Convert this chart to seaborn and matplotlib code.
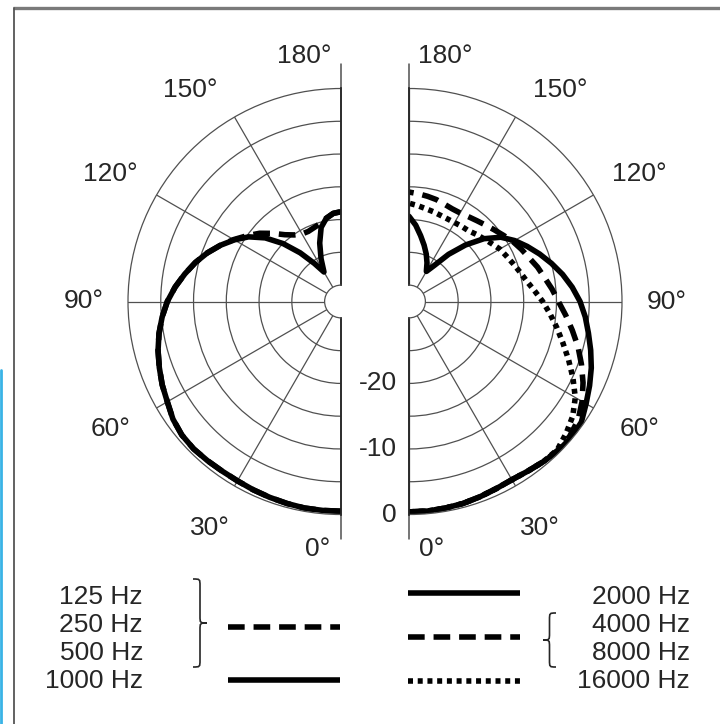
import numpy as np
import pandas as pd
import matplotlib
matplotlib.use("Agg")
import matplotlib.pyplot as plt
import seaborn as sns
from matplotlib.path import Path
from matplotlib.patches import PathPatch

# angles (degrees, 0 = on-axis) and levels in dB
angles = list(range(0, 181, 5))
# left half: 125 / 250 / 500 Hz (dashed) and 1000 Hz (solid)
db_1000 = [-0.5, -0.5, -0.5, -0.6, -0.7, -0.8, -0.9, -0.9, -0.8, -0.7,
           -0.8, -1.2, -1.9, -2.4, -3.0, -3.6, -4.3, -5.1, -6.0, -7.1,
           -8.3, -9.5, -10.8, -12.2, -13.7, -15.3, -17.4, -20.0, -22.8, -25.4,
           -27.3, -25.3, -23.0, -20.8, -19.6, -19.0, -18.8]
db_low = [-0.5, -0.5, -0.5, -0.6, -0.7, -0.8, -0.9, -0.9, -0.8, -0.7,
          -0.8, -1.2, -1.9, -2.4, -3.0, -3.6, -4.3, -5.1, -6.0, -7.1,
          -8.3, -9.5, -10.8, -12.2, -13.6, -15.0, -16.3, -17.8, -19.2, -20.1,
          -20.6, -20.7, -20.5, -20.2, -19.6, -19.0, -18.8]
# right half: 2000 Hz (solid), 4000 / 8000 Hz (dashed), 16000 Hz (dotted)
db_2000 = [-0.4, -0.4, -0.5, -0.6, -0.8, -1.0, -1.1, -0.9, -0.6, -0.3,
           -0.2, -0.4, -1.3, -2.1, -2.9, -3.8, -4.7, -5.5, -6.4, -7.5,
           -8.7, -10.0, -11.3, -12.6, -13.9, -15.4, -17.6, -20.3, -23.1, -25.8,
           -27.2, -26.0, -24.8, -23.6, -22.3, -20.8, -19.5]
db_4k8k = [-0.4, -0.4, -0.5, -0.6, -0.8, -1.0, -1.1, -0.9, -0.6, -0.4,
           -0.5, -1.0, -2.0, -3.2, -4.5, -5.8, -7.2, -8.5, -9.7, -10.6,
           -11.5, -12.2, -13.0, -13.6, -14.2, -14.9, -15.5, -16.0, -16.4, -16.7,
           -16.9, -16.9, -16.7, -16.4, -16.2, -16.0, -15.8]
db_16k = [-0.4, -0.4, -0.5, -0.6, -0.8, -1.0, -1.1, -0.9, -0.6, -0.5,
          -1.2, -2.0, -3.2, -4.9, -6.6, -8.2, -9.6, -10.9, -12.1, -13.3,
          -14.3, -15.0, -15.6, -16.1, -16.5, -17.1, -17.6, -18.0, -18.4, -18.5,
          -18.6, -18.6, -18.5, -18.3, -18.1, -17.8, -17.5]

ring_levels = [-25, -20, -15, -10, -5]
db_labels = ["-20", "-10", "0"]
db_label_levels = [-20, -10, 0]
left_legend = ["125 Hz", "250 Hz", "500 Hz", "1000 Hz"]
right_legend = ["2000 Hz", "4000 Hz", "8000 Hz", "16000 Hz"]

sns.set_theme(style="white")
plt.rcParams["font.family"] = ["Liberation Sans", "DejaVu Sans"]

W, H = 720, 724
fig = plt.figure(figsize=(W / 100, H / 100), dpi=100)
fig.patch.set_facecolor("white")

bg = fig.add_axes([0, 0, 1, 1])
bg.set_xlim(0, W)
bg.set_ylim(H, 0)
bg.axis("off")

txt_col = "#262626"
grid_col = "#505050"
fs = 19
DASH = (0, (3.0, 1.6))
DOT = (0, (0.9, 0.85))

cy, R = 301.5, 213
ORIG = -32.5


def half_polar(cx, left):
    # polar axes squares its box; the half disc (R x 2R) is centred in it
    bx = cx - R / 2 if left else cx + R / 2
    ax = fig.add_axes([(bx - R) / W, (H - cy - R) / H, 2 * R / W, 2 * R / H],
                      projection="polar")
    ax.set_facecolor("none")
    ax.set_theta_zero_location("S")
    ax.set_theta_direction(-1 if left else 1)
    ax.set_thetamin(0)
    ax.set_thetamax(180)
    ax.set_rorigin(ORIG)
    ax.set_ylim(-30, 0)
    ax.set_yticks(ring_levels)
    ax.set_yticklabels([])
    ax.set_xticks(np.deg2rad(range(0, 181, 30)))
    ax.set_xticklabels([])
    ax.grid(True, color=grid_col, lw=0.9)
    ax.spines["polar"].set_color(grid_col)
    ax.spines["polar"].set_linewidth(0.9)
    ax.spines["inner"].set_color(grid_col)
    ax.spines["inner"].set_linewidth(0.9)
    ax.spines["start"].set_visible(False)
    ax.spines["end"].set_visible(False)
    # vertical axis lines that run past the outer ring
    for t in (0, np.pi):
        ax.plot([t, t], [-30, 3.7], color=grid_col, lw=1.1, clip_on=False)
    return ax


axl = half_polar(341, True)
axr = half_polar(409, False)

th = np.deg2rad(angles)
df_l = pd.DataFrame({"theta": th, "low": db_low, "f1000": db_1000})
df_r = pd.DataFrame({"theta": th, "f2000": db_2000, "f4k8k": db_4k8k, "f16k": db_16k})

lw = 4.0
sns.lineplot(data=df_l, x="theta", y="low", ax=axl, color="black", lw=lw,
             linestyle=DASH, sort=False, estimator=None)
sns.lineplot(data=df_l, x="theta", y="f1000", ax=axl, color="black", lw=lw,
             sort=False, estimator=None)
sns.lineplot(data=df_r, x="theta", y="f16k", ax=axr, color="black", lw=lw,
             linestyle=DOT, sort=False, estimator=None)
sns.lineplot(data=df_r, x="theta", y="f4k8k", ax=axr, color="black", lw=lw,
             linestyle=DASH, sort=False, estimator=None)
sns.lineplot(data=df_r, x="theta", y="f2000", ax=axr, color="black", lw=lw,
             sort=False, estimator=None)
for ax in (axl, axr):
    ax.set_xlabel("")
    ax.set_ylabel("")
    ax.set_ylim(-30, 0)

# angle labels (angle, radius in dB units beyond the outer ring)
label_pos = [("0°", 5.3, 5.4), ("30°", 30, 7.4), ("60°", 61, 7.7), ("90°", 90, 6.8),
             ("120°", 119, 7.7), ("150°", 144.5, 7.2), ("180°", 171.5, 5.4)]
for ax in (axl, axr):
    for s, a, r in label_pos:
        ax.text(np.deg2rad(a), r, s, ha="center", va="center", fontsize=fs,
                color=txt_col, clip_on=False)

# dB scale labels next to the right axis
for s, v in zip(db_labels, db_label_levels):
    axr.annotate(s, xy=(0, v), xytext=(-9, 0), textcoords="offset points",
                 ha="right", va="center", fontsize=fs, color=txt_col,
                 annotation_clip=False)

# frame
bg.plot([13, W], [8, 8], color="#7a7a7a", lw=2.4, solid_capstyle="butt")
bg.plot([13.5, 13.5], [8, H], color="#555555", lw=1.3)
bg.plot([1.2, 1.2], [370, H], color="#39b3e6", lw=2.0)

# legend
ys = [597, 625, 653, 681]
for s, y in zip(left_legend, ys):
    bg.text(143, y, s, ha="right", va="center", fontsize=fs, color=txt_col)
for s, y in zip(right_legend, ys):
    bg.text(690, y, s, ha="right", va="center", fontsize=fs, color=txt_col)

bg.plot([228, 340], [627, 627], color="black", lw=lw, linestyle=DASH)
bg.plot([228, 340], [680, 680], color="black", lw=lw, solid_capstyle="butt")
bg.plot([408, 520], [593, 593], color="black", lw=lw, solid_capstyle="butt")
bg.plot([408, 520], [637, 637], color="black", lw=lw, linestyle=DASH)
bg.plot([408, 520], [681, 681], color="black", lw=lw, linestyle=DOT)


def brace(x, ytop, ybot, w, s):
    ym = (ytop + ybot) / 2
    a = w * 0.5
    c = 7
    verts = [(x, ytop),
             (x + s * a, ytop), (x + s * a, ytop), (x + s * a, ytop + c),
             (x + s * a, ym - c),
             (x + s * a, ym), (x + s * a, ym), (x + s * w, ym),
             (x + s * a, ym), (x + s * a, ym), (x + s * a, ym + c),
             (x + s * a, ybot - c),
             (x + s * a, ybot), (x + s * a, ybot), (x, ybot)]
    codes = [Path.MOVETO,
             Path.CURVE4, Path.CURVE4, Path.CURVE4,
             Path.LINETO,
             Path.CURVE4, Path.CURVE4, Path.CURVE4,
             Path.CURVE4, Path.CURVE4, Path.CURVE4,
             Path.LINETO,
             Path.CURVE4, Path.CURVE4, Path.CURVE4]
    bg.add_patch(PathPatch(Path(verts, codes), fill=False, ec=txt_col, lw=1.2))


brace(193, 579, 667, 14, 1)
brace(556, 613, 667, 13, -1)

fig.savefig("out.png", dpi=100)
